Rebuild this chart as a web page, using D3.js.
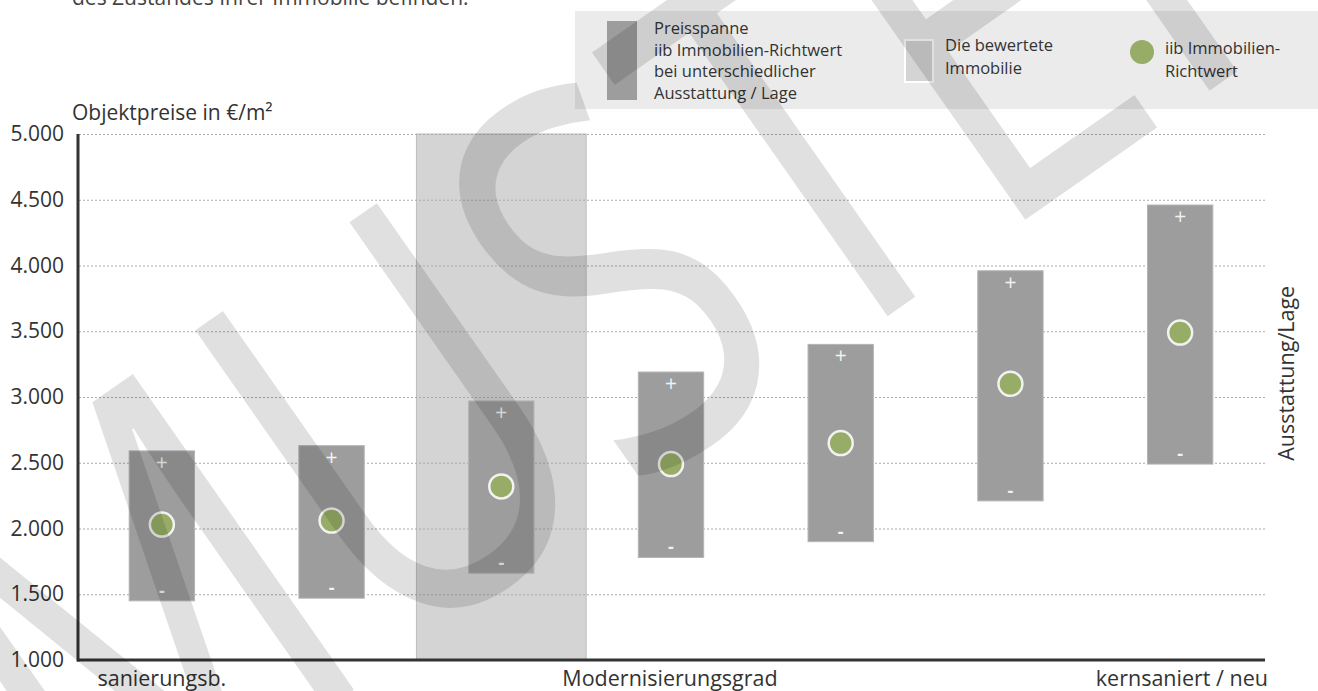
<!DOCTYPE html>
<html>
<head>
<meta charset="utf-8">
<script src="https://cdn.jsdelivr.net/npm/d3@7"></script>
<style>
  body { margin: 0; background: #fff; }
  svg { display: block; font-family: "Open Sans", sans-serif; }
</style>
</head>
<body>
<svg id="chart" width="1318" height="691"></svg>
<script>
// Modernisierungsstufen (von sanierungsbedürftig bis kernsaniert / neu)
const levels = [1, 2, 3, 4, 5, 6, 7];
const rangeLow = [1450, 1470, 1660, 1780, 1900, 2210, 2490];
const rangeHigh = [2590, 2630, 2970, 3190, 3400, 3960, 4460];
const richtwert = [2030, 2060, 2320, 2490, 2650, 3100, 3490];
const assessedLevel = 3; // die bewertete Immobilie
const yTicks = [1000, 1500, 2000, 2500, 3000, 3500, 4000, 4500, 5000];
const xLabels = ['sanierungsb.', 'Modernisierungsgrad', 'kernsaniert / neu'];

const rows = levels.map((l, i) => ({ level: l, low: rangeLow[i], high: rangeHigh[i], value: richtwert[i] }));

const svg = d3.select('#chart');
const margin = { top: 134, right: 53, bottom: 31, left: 77 };
const width = 1318 - margin.left - margin.right;
const height = 691 - margin.top - margin.bottom;

const x = d3.scaleBand().domain(levels).range([margin.left, margin.left + width]);
const y = d3.scaleLinear().domain([1000, 5000]).range([margin.top + height, margin.top]);
const barW = x.bandwidth() * 0.385;
const cx = d => x(d.level) + x.bandwidth() / 2;

// intro text, cut off at the top like in the original
svg.append('text')
  .attr('x', 72).attr('y', 5)
  .attr('font-size', 21).attr('fill', '#444')
  .text('des Zustandes Ihrer Immobilie befinden.');

// legend
const legend = svg.append('g');
legend.append('rect').attr('x', 575).attr('y', 11).attr('width', 743).attr('height', 98).attr('fill', '#ebebeb');
legend.append('rect').attr('x', 607).attr('y', 21).attr('width', 30).attr('height', 79).attr('fill', '#9d9d9d');
legend.append('text').attr('x', 654).attr('y', 34).attr('font-size', 16.5).attr('fill', '#333')
  .selectAll('tspan')
  .data(['Preisspanne', 'iib Immobilien-Richtwert', 'bei unterschiedlicher', 'Ausstattung / Lage'])
  .join('tspan').attr('x', 654).attr('dy', (d, i) => i ? 21.5 : 0).text(d => d);
legend.append('rect').attr('x', 905).attr('y', 40).attr('width', 28).attr('height', 42)
  .attr('fill', '#d4d4d4').attr('stroke', '#fff').attr('stroke-width', 2);
legend.append('text').attr('x', 945).attr('y', 51).attr('font-size', 16.5).attr('fill', '#333')
  .selectAll('tspan')
  .data(['Die bewertete', 'Immobilie'])
  .join('tspan').attr('x', 945).attr('dy', (d, i) => i ? 23 : 0).text(d => d);
legend.append('circle').attr('cx', 1142).attr('cy', 52).attr('r', 12).attr('fill', '#97ad67');
legend.append('text').attr('x', 1165).attr('y', 54).attr('font-size', 16.5).attr('fill', '#333')
  .selectAll('tspan')
  .data(['iib Immobilien-', 'Richtwert'])
  .join('tspan').attr('x', 1165).attr('dy', (d, i) => i ? 23 : 0).text(d => d);

// axis title
svg.append('text')
  .attr('x', 72).attr('y', 120)
  .attr('font-size', 21).attr('fill', '#333')
  .text('Objektpreise in €/m²');

// highlighted band: die bewertete Immobilie
svg.append('rect')
  .attr('x', x(assessedLevel)).attr('y', y(5000))
  .attr('width', x.bandwidth()).attr('height', y(1000) - y(5000))
  .attr('fill', '#d4d4d4').attr('stroke', '#bdbdbd').attr('stroke-width', 1);

// gridlines + y axis labels
const yAxis = d3.axisLeft(y).tickValues(yTicks)
  .tickFormat(d => d3.format(',')(d).replace(/,/g, '.'))
  .tickSize(-width).tickPadding(13);
const gy = svg.append('g').attr('transform', `translate(${margin.left},0)`).call(yAxis);
gy.select('.domain').remove();
gy.selectAll('.tick line')
  .attr('stroke', '#aaa').attr('stroke-dasharray', '2,2').attr('x1', 2);
gy.selectAll('.tick').filter(d => d === 1000).select('line').remove();
gy.selectAll('.tick text').attr('font-size', 21).attr('fill', '#333').attr('font-family', '"Open Sans", sans-serif');

// range bars
const bars = svg.append('g').selectAll('g.bar').data(rows).join('g').attr('class', 'bar');
bars.append('rect')
  .attr('x', d => x(d.level) + (x.bandwidth() - barW) / 2)
  .attr('y', d => y(d.high))
  .attr('width', barW)
  .attr('height', d => y(d.low) - y(d.high))
  .attr('fill', '#9d9d9d').attr('stroke', '#b4b4b4').attr('stroke-width', 1);
bars.append('text')
  .attr('x', cx)
  .attr('y', d => y(d.high) + 19)
  .attr('text-anchor', 'middle').attr('font-size', 21).attr('fill', '#f2f2f2')
  .text('+');
bars.append('text')
  .attr('x', cx)
  .attr('y', d => y(d.low) - 4)
  .attr('text-anchor', 'middle').attr('font-size', 18).attr('font-weight', 'bold').attr('fill', '#f2f2f2')
  .text('-');
bars.append('circle')
  .attr('cx', cx)
  .attr('cy', d => y(d.value))
  .attr('r', 12)
  .attr('fill', '#97ad67').attr('stroke', '#f2f2f2').attr('stroke-width', 2.5);

// axes lines
svg.append('line')
  .attr('x1', margin.left + 1).attr('x2', margin.left + 1)
  .attr('y1', y(5000)).attr('y2', y(1000) + 1.5)
  .attr('stroke', '#333').attr('stroke-width', 3);
svg.append('line')
  .attr('x1', margin.left).attr('x2', margin.left + width)
  .attr('y1', y(1000)).attr('y2', y(1000))
  .attr('stroke', '#333').attr('stroke-width', 3);

// x labels
const xl = svg.append('g').attr('font-size', 21.5).attr('fill', '#333');
xl.append('text').attr('x', x(1) + x.bandwidth() / 2).attr('y', 686).attr('text-anchor', 'middle').text(xLabels[0]);
xl.append('text').attr('x', 670).attr('y', 686).attr('text-anchor', 'middle').text(xLabels[1]);
xl.append('text').attr('x', margin.left + width + 3).attr('y', 686).attr('text-anchor', 'end').text(xLabels[2]);

// right label
svg.append('text')
  .attr('transform', `translate(1294,${y(3180)}) rotate(-90)`)
  .attr('text-anchor', 'middle').attr('font-size', 21.5).attr('fill', '#333')
  .text('Ausstattung/Lage');

// watermark
svg.append('text')
  .attr('transform', 'translate(88,876) rotate(-35) scale(0.9,1.2)')
  .attr('font-size', 450)
  .attr('fill', '#000').attr('fill-opacity', 0.12)
  .attr('font-family', '"Open Sans", sans-serif')
  .text('MUSTER');
</script>
</body>
</html>
